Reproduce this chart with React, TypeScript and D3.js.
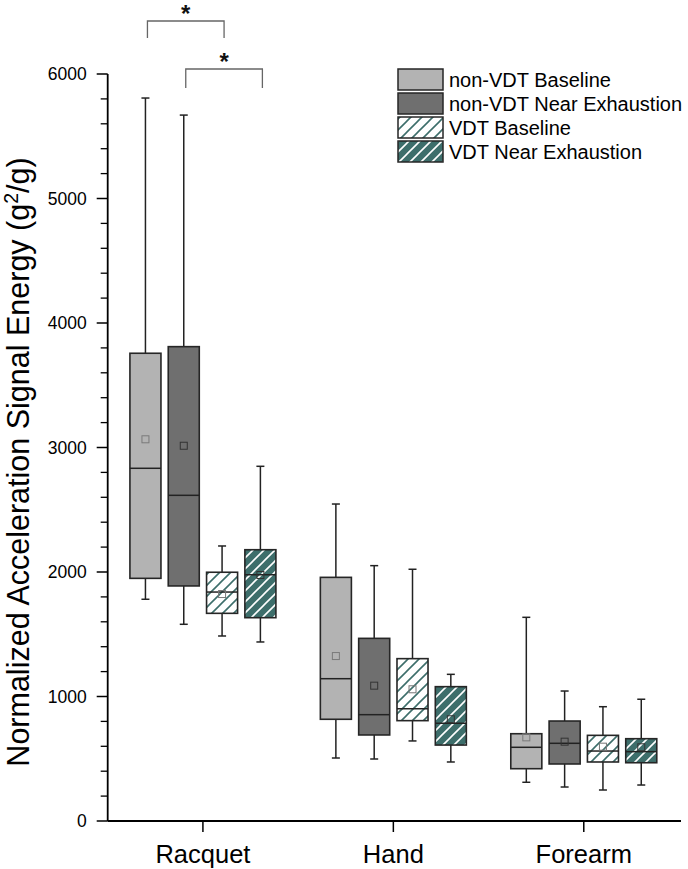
import React from "react";
import * as d3 from "d3";

// ---- data ----
const categories = ["Racquet", "Hand", "Forearm"];
const seriesNames = [
  "non-VDT Baseline",
  "non-VDT Near Exhaustion",
  "VDT Baseline",
  "VDT Near Exhaustion",
];
// each row: [whiskerLow, q1, median, q3, whiskerHigh, mean] per category
const nonVdtBaseline = [
  [1781, 1949, 2833, 3757, 5807, 3066],
  [506, 817, 1143, 1957, 2546, 1325],
  [311, 420, 592, 701, 1636, 672],
];
const nonVdtNearExhaustion = [
  [1580, 1888, 2616, 3810, 5670, 3014],
  [498, 691, 854, 1467, 2051, 1087],
  [273, 458, 624, 803, 1044, 637],
];
const vdtBaseline = [
  [1486, 1668, 1839, 1998, 2209, 1823],
  [643, 806, 902, 1304, 2022, 1058],
  [249, 474, 562, 688, 918, 597],
];
const vdtNearExhaustion = [
  [1438, 1633, 1978, 2179, 2849, 1976],
  [474, 610, 785, 1079, 1178, 817],
  [289, 468, 557, 661, 978, 592],
];
const yTicks = [0, 1000, 2000, 3000, 4000, 5000, 6000];
// significance brackets: [category index, series a, series b, level]
const sigPairs = [
  [0, 0, 2, 0],
  [0, 1, 3, 1],
];

const allSeries = [nonVdtBaseline, nonVdtNearExhaustion, vdtBaseline, vdtNearExhaustion];
const fills = ["#b3b3b3", "#6f6f6f", "url(#hatchWhite)", "url(#hatchTeal)"];
const meanStroke = ["#7a7a7a", "#333", "#777", "#333"];
const TEAL = "#3d6e6b";
const FONT = "'Liberation Sans', Arial, sans-serif";

export default function App() {
  const W = 688, H = 869;
  const x0 = 107.7, x1 = 679, yTop = 74, yBot = 821;
  const y = d3.scaleLinear().domain([0, 6000]).range([yBot, yTop]);
  const x = d3.scaleBand().domain(categories).range([x0, x1]).padding(0);
  const inner = d3
    .scaleBand()
    .domain(seriesNames)
    .range([0, x.bandwidth()])
    .paddingInner(0.19)
    .paddingOuter(0.58);
  const boxW = inner.bandwidth();
  const minorTicks = d3.range(0, 6001, 200).filter((v) => v % 1000 !== 0);
  const cx = (ci: number, si: number) =>
    (x(categories[ci]) as number) + (inner(seriesNames[si]) as number) + boxW / 2;

  const bracketTops = [21, 69];
  const bracketBottoms = [38, 88];

  return (
    <svg
      width={W}
      height={H}
      style={{ position: "absolute", left: 0, top: 0, background: "#fff" }}
      fontFamily={FONT}
    >
      <defs>
        <pattern id="hatchWhite" patternUnits="userSpaceOnUse" width={11} height={11}>
          <rect width={11} height={11} fill="#ffffff" />
          <path d="M-1,12 L12,-1 M-3,3 L3,-3 M8,14 L14,8" stroke={TEAL} strokeWidth={1.6} />
        </pattern>
        <pattern id="hatchTeal" patternUnits="userSpaceOnUse" width={11} height={11}>
          <rect width={11} height={11} fill={TEAL} />
          <path d="M-1,12 L12,-1 M-3,3 L3,-3 M8,14 L14,8" stroke="#ffffff" strokeWidth={1.6} />
        </pattern>
      </defs>

      {/* boxes */}
      {allSeries.map((rows, si) =>
        rows.map((r, ci) => {
          const [lo, q1, med, q3, hi, mean] = r;
          const c = cx(ci, si);
          return (
            <g key={`b${si}-${ci}`}>
              <line x1={c} x2={c} y1={y(hi)} y2={y(q3)} stroke="#222" strokeWidth={1.5} />
              <line x1={c} x2={c} y1={y(q1)} y2={y(lo)} stroke="#222" strokeWidth={1.5} />
              <line x1={c - 4} x2={c + 4} y1={y(hi)} y2={y(hi)} stroke="#222" strokeWidth={1.5} />
              <line x1={c - 4} x2={c + 4} y1={y(lo)} y2={y(lo)} stroke="#222" strokeWidth={1.5} />
              <rect
                x={c - boxW / 2}
                y={y(q3)}
                width={boxW}
                height={y(q1) - y(q3)}
                fill={fills[si]}
                stroke="#262626"
                strokeWidth={1.6}
              />
              <line x1={c - boxW / 2} x2={c + boxW / 2} y1={y(med)} y2={y(med)} stroke="#222" strokeWidth={1.5} />
              <rect
                x={c - 3.5}
                y={y(mean) - 3.5}
                width={7}
                height={7}
                fill="none"
                stroke={meanStroke[si]}
                strokeWidth={1}
              />
            </g>
          );
        })
      )}

      {/* axes */}
      <line x1={x0} x2={x0} y1={yTop} y2={yBot} stroke="#000" strokeWidth={1.8} />
      <line x1={x0} x2={x1 + 2} y1={yBot} y2={yBot} stroke="#000" strokeWidth={1.8} />
      {yTicks.map((t) => (
        <g key={`yt${t}`}>
          <line x1={x0 - 11} x2={x0} y1={y(t)} y2={y(t)} stroke="#000" strokeWidth={1.5} />
          <text x={x0 - 21} y={y(t)} dy="0.35em" textAnchor="end" fontSize={17.5} fill="#000">
            {t}
          </text>
        </g>
      ))}
      {minorTicks.map((t) => (
        <line key={`mt${t}`} x1={x0 - 7} x2={x0} y1={y(t)} y2={y(t)} stroke="#000" strokeWidth={1.3} />
      ))}
      {categories.map((c) => {
        const px = (x(c) as number) + x.bandwidth() / 2;
        return (
          <g key={`xt${c}`}>
            <line x1={px} x2={px} y1={yBot} y2={yBot + 11} stroke="#000" strokeWidth={1.5} />
            <text x={px} y={yBot + 42} textAnchor="middle" fontSize={25.5} fill="#000">
              {c}
            </text>
          </g>
        );
      })}
      <text
        transform={`translate(29, 462) rotate(-90)`}
        textAnchor="middle"
        fontSize={30.5}
        fill="#000"
      >
        Normalized Acceleration Signal Energy (g
        <tspan dy={-11} fontSize={19.5}>2</tspan>
        <tspan dy={11}>/g)</tspan>
      </text>

      {/* significance brackets */}
      {sigPairs.map(([ci, a, b, lvl], i) => {
        const xa = cx(ci, a) + 2;
        const xb = cx(ci, b) + 2;
        const top = bracketTops[lvl];
        const bot = bracketBottoms[lvl];
        return (
          <g key={`sig${i}`}>
            <path
              d={`M${xa},${bot} L${xa},${top} L${xb},${top} L${xb},${bot}`}
              fill="none"
              stroke="#666"
              strokeWidth={1.3}
            />
            <text x={(xa + xb) / 2} y={top + 1} textAnchor="middle" fontSize={24} fontWeight="bold" fill="#111">
              *
            </text>
          </g>
        );
      })}

      {/* legend */}
      {seriesNames.map((s, i) => {
        const ly = 69 + i * 24;
        return (
          <g key={`lg${i}`}>
            <rect x={398} y={ly} width={45} height={21} fill={fills[i]} stroke="#262626" strokeWidth={1.5} />
            <text x={449} y={ly + 10.5} dy="0.35em" fontSize={20} fill="#000">
              {s}
            </text>
          </g>
        );
      })}
    </svg>
  );
}
